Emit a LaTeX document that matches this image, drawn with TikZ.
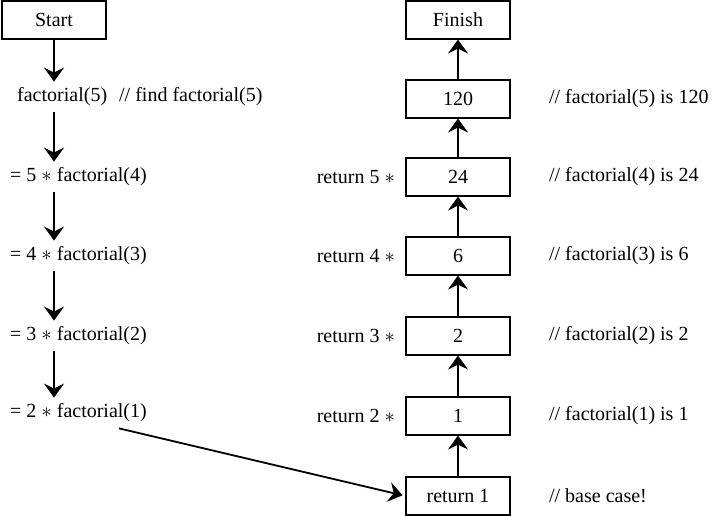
\documentclass[tikz,border=0pt]{standalone}
\usepackage{fontspec}
\setmainfont{Liberation Serif}
\usetikzlibrary{positioning,arrows.meta}

\tikzset{
  valbox/.style={draw, line width=1.1pt, minimum width=104pt, minimum height=38pt, inner sep=0pt},
  calltext/.style={anchor=west, inner sep=6pt},
  flow/.style={->, line width=2.6pt},
}

\begin{document}
\begin{tikzpicture}[>={Stealth[length=14pt,width=20pt,inset=5pt]}, x=1pt, y=1pt, font=\fontsize{20}{24}\selectfont]
\useasboundingbox (0,0) rectangle (712,516);

\node[valbox] (start) at (54, 496) {Start};
\node[calltext] (call5) at (11, 419) {factorial(5)\hspace{12pt}// find factorial(5)};
\node[calltext] (call4) at (4, 339) {= 5 $*$ factorial(4)};
\node[calltext] (call3) at (4, 260) {= 4 $*$ factorial(3)};
\node[calltext] (call2) at (4, 180) {= 3 $*$ factorial(2)};
\node[calltext] (call1) at (4, 103) {= 2 $*$ factorial(1)};

\draw[flow] (start) -- (start |- call5.north);
\draw[flow] (start |- call5.south) -- (start |- call4.north);
\draw[flow] (start |- call4.south) -- (start |- call3.north);
\draw[flow] (start |- call3.south) -- (start |- call2.north);
\draw[flow] (start |- call2.south) -- (start |- call1.north);

\node[valbox] (finish) at (458, 496) {Finish};
\node[valbox] (v120) at (458, 417) {120};
\node[valbox] (v24) at (458, 339) {24};
\node[valbox] (v6) at (458, 260) {6};
\node[valbox] (v2) at (458, 180) {2};
\node[valbox] (v1) at (458, 100) {1};
\node[valbox] (base) at (458, 20) {return 1};

\draw[flow] (base) -- (v1);
\draw[flow] (v1) -- (v2);
\draw[flow] (v2) -- (v6);
\draw[flow] (v6) -- (v24);
\draw[flow] (v24) -- (v120);
\draw[flow] (v120) -- (finish);

\draw[flow, line width=1.8pt, shorten >=3pt] ([xshift=-34pt]call1.south east) -- (base.west);

\node[left=7pt of v24] (ret5) {return 5 $*$};
\node[left=7pt of v6] (ret4) {return 4 $*$};
\node[left=7pt of v2] (ret3) {return 3 $*$};
\node[left=7pt of v1] (ret2) {return 2 $*$};

\node[right=35pt of v120] (is120) {// factorial(5) is 120};
\node[right=35pt of v24] (is24) {// factorial(4) is 24};
\node[right=35pt of v6] (is6) {// factorial(3) is 6};
\node[right=35pt of v2] (is2) {// factorial(2) is 2};
\node[right=35pt of v1] (is1) {// factorial(1) is 1};
\node[right=35pt of base] (iscase) {// base case!};

\end{tikzpicture}
\end{document}
